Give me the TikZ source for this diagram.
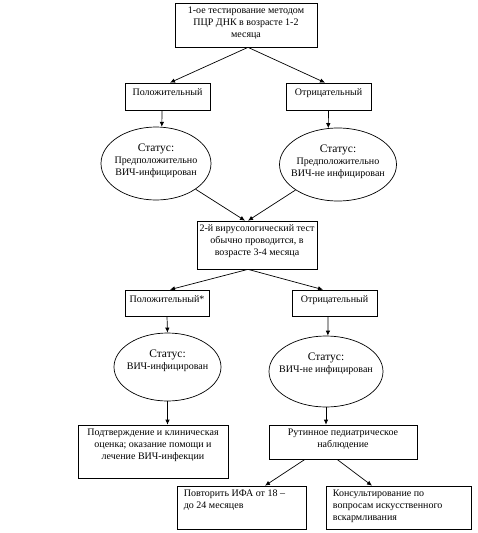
\documentclass[tikz,border=0pt]{standalone}
\usepackage{fontspec}
\setmainfont{Liberation Serif}
\usetikzlibrary{shapes.geometric,arrows.meta}

\begin{document}
\begin{tikzpicture}[x=1pt,y=-1pt,>={Latex[length=5pt,width=4.5pt]},
	box/.style={draw,line width=0.7pt,inner sep=0pt},
	oval/.style={draw,ellipse,line width=0.7pt,inner sep=0pt},
	txt/.style={anchor=north,align=center,inner sep=0pt,yshift=-4pt,font=\fontsize{10}{12}\selectfont,execute at begin node=\strut},
	ltxt/.style={txt,anchor=north west,align=left,xshift=7pt},
	etxt/.style={txt,yshift=-13pt},
	arr/.style={->,line width=0.7pt}]
					\useasboundingbox (0,0) rectangle (477,533);
					% first test
					\node[box,minimum width=142pt,minimum height=44pt,label={[txt]north:1-ое тестирование методом\\ПЦР ДНК в возрасте 1-2\\месяца}] (test1) at (246,25) {};
					\node[box,minimum width=85pt,minimum height=27pt,label={[txt]north:Положительный}] (pos1) at (167.5,96.5) {};
					\node[box,minimum width=85pt,minimum height=27pt,label={[txt]north:Отрицательный}] (neg1) at (328.5,96.5) {};
					\node[oval,minimum width=110pt,minimum height=73pt,label={[etxt]north:{\fontsize{11.5}{13}\selectfont Статус:}\\Предположительно\\ВИЧ-инфицирован}] (st1) at (156,163.5) {};
					\node[oval,minimum width=117pt,minimum height=73pt,label={[etxt]north:{\fontsize{11.5}{13}\selectfont Статус:}\\Предположительно\\ВИЧ-не инфицирован}] (st2) at (338,164.5) {};
					% second test
					\node[box,minimum width=120pt,minimum height=48pt,label={[txt]north:2-й вирусологический тест\\обычно проводится, в\\возрасте 3-4 месяца}] (test2) at (257,245) {};
					\node[box,minimum width=84pt,minimum height=26pt,label={[txt]north:Положительный*}] (pos2) at (167,303) {};
					\node[box,minimum width=85pt,minimum height=26pt,label={[txt]north:Отрицательный}] (neg2) at (334.5,303) {};
					\node[oval,minimum width=107pt,minimum height=68pt,label={[etxt]north:{\fontsize{11.5}{13}\selectfont Статус:}\\ВИЧ-инфицирован}] (st3) at (167.5,367) {};
					\node[oval,minimum width=114pt,minimum height=71pt,label={[etxt]north:{\fontsize{11.5}{13}\selectfont Статус:}\\ВИЧ-не инфицирован}] (st4) at (326,371.5) {};
					% follow-up
					\node[box,minimum width=150pt,minimum height=53pt,label={[txt]north:Подтверждение и клиническая\\оценка; оказание помощи и\\лечение ВИЧ-инфекции}] (care) at (153,451.5) {};
					\node[box,minimum width=148pt,minimum height=34pt,label={[txt]north:Рутинное педиатрическое\\наблюдение}] (watch) at (343,442) {};
					\node[box,minimum width=129pt,minimum height=43pt,label={[ltxt]north west:Повторить ИФА от 18 –\\до 24 месяцев}] (ifa) at (241.5,507.5) {};
					\node[box,minimum width=145pt,minimum height=43pt,label={[ltxt]north west:Консультирование по\\вопросам искусственного\\вскармливания}] (feed) at (398.5,507.5) {};
					% arrows
					\draw[arr] ([xshift=2pt]test1.south) -- ([xshift=2.5pt]pos1.north);
					\draw[arr] ([xshift=2pt]test1.south) -- ([xshift=-3.5pt]neg1.north);
					\draw[arr] ([xshift=-5.5pt]pos1.south) -- (st1.81);
					\draw[arr] (neg1.south) -- (st2.105);
					\draw[arr] (st1.-33) -- ([xshift=-12pt]test2.north);
					\draw[arr] (st2.211) -- ([xshift=-9pt]test2.north);
					\draw[arr] ([xshift=-9pt]test2.south) -- ([xshift=3pt]pos2.north);
					\draw[arr] ([xshift=-9pt]test2.south) -- ([xshift=-11.5pt]neg2.north);
					\draw[arr] (pos2.south) -- (st3.north);
					\draw[arr] ([xshift=-6.5pt]neg2.south) -- (st4.87);
					\draw[arr] (st3.south) -- (st3.south |- care.north);
					\draw[arr] (st4.south) -- (st4.south |- watch.north);
					\draw[arr] ([xshift=-38pt]watch.south) -- ([xshift=23.5pt]ifa.north);
					\draw[arr] ([xshift=-6pt]watch.south) -- ([xshift=-26.5pt]feed.north);
				\end{tikzpicture}
\end{document}
